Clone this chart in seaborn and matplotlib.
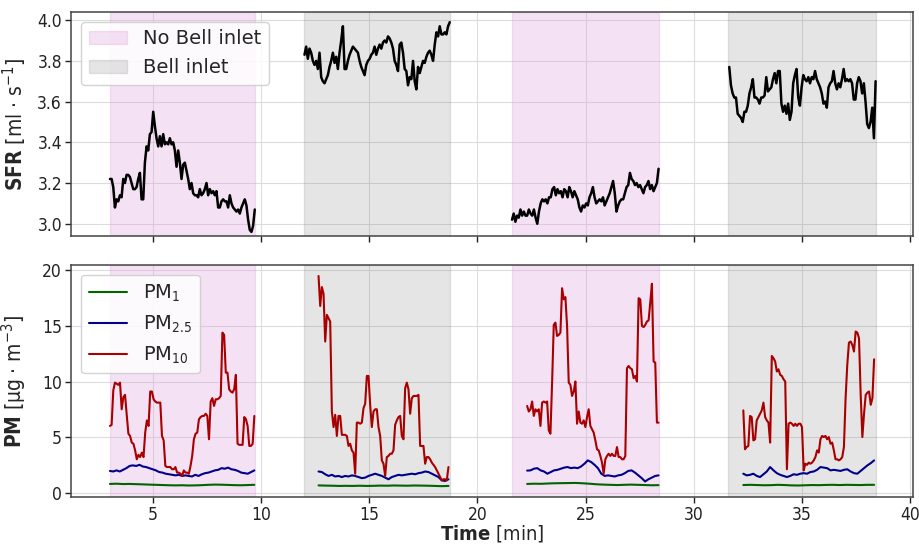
import numpy as np
import pandas as pd
import matplotlib
matplotlib.use("Agg")
import matplotlib.pyplot as plt
import seaborn as sns
from matplotlib.patches import Patch
from matplotlib.lines import Line2D
from matplotlib.font_manager import FontProperties

# ---------------- measurement windows [min] ----------------
no_bell_windows = [(3.0, 9.72), (21.6, 28.38)]
bell_windows = [(12.0, 18.71), (31.6, 38.42)]

# ---------------- sampling flow rate (SFR) [ml/s] ----------------
sfr_times = [(3.0, 9.7), (12.0, 18.72), (21.6, 28.38), (31.65, 38.42)]

sfr_run1 = [3.22, 3.22, 3.18, 3.08, 3.12, 3.11, 3.14, 3.13, 3.22, 3.20, 3.24, 3.24, 3.23, 3.20,
            3.17, 3.17, 3.18, 3.22, 3.25, 3.12, 3.12, 3.30, 3.38, 3.36, 3.44, 3.45, 3.55, 3.48,
            3.42, 3.38, 3.43, 3.38, 3.44, 3.39, 3.40, 3.39, 3.42, 3.39, 3.40, 3.36, 3.28, 3.36,
            3.30, 3.22, 3.29, 3.30, 3.26, 3.22, 3.17, 3.20, 3.15, 3.14, 3.14, 3.13, 3.17, 3.14,
            3.15, 3.17, 3.20, 3.14, 3.17, 3.15, 3.16, 3.14, 3.16, 3.08, 3.08, 3.11, 3.12, 3.11,
            3.11, 3.08, 3.14, 3.10, 3.08, 3.07, 3.06, 3.07, 3.05, 3.08, 3.10, 3.12, 3.09, 3.02,
            2.97, 2.96, 2.99, 3.07]
sfr_run2 = [3.83, 3.87, 3.81, 3.86, 3.84, 3.80, 3.78, 3.80, 3.76, 3.84, 3.72, 3.70, 3.69, 3.71,
            3.73, 3.77, 3.80, 3.84, 3.79, 3.82, 3.76, 3.84, 3.90, 3.97, 3.76, 3.76, 3.80, 3.83,
            3.85, 3.87, 3.86, 3.85, 3.84, 3.80, 3.77, 3.75, 3.73, 3.78, 3.80, 3.81, 3.83, 3.84,
            3.87, 3.83, 3.86, 3.88, 3.86, 3.89, 3.90, 3.89, 3.92, 3.91, 3.89, 3.86, 3.80, 3.78,
            3.75, 3.88, 3.89, 3.84, 3.76, 3.75, 3.68, 3.72, 3.71, 3.80, 3.70, 3.66, 3.77, 3.74,
            3.77, 3.80, 3.79, 3.82, 3.84, 3.85, 3.83, 3.80, 3.88, 3.94, 3.92, 3.97, 3.93, 3.93,
            3.94, 3.93, 3.97, 3.99]
sfr_run3 = [3.02, 3.05, 3.01, 3.04, 3.03, 3.07, 3.04, 3.06, 3.04, 3.04, 3.07, 3.05, 3.04, 3.07,
            3.03, 3.00, 3.06, 3.10, 3.12, 3.11, 3.12, 3.10, 3.13, 3.13, 3.17, 3.18, 3.14, 3.17,
            3.15, 3.16, 3.13, 3.17, 3.16, 3.13, 3.18, 3.16, 3.13, 3.16, 3.14, 3.12, 3.08, 3.06,
            3.09, 3.08, 3.10, 3.09, 3.13, 3.15, 3.18, 3.13, 3.10, 3.11, 3.12, 3.11, 3.13, 3.09,
            3.11, 3.13, 3.15, 3.18, 3.21, 3.15, 3.06, 3.09, 3.11, 3.12, 3.12, 3.15, 3.18, 3.19,
            3.25, 3.22, 3.21, 3.19, 3.20, 3.18, 3.19, 3.17, 3.15, 3.18, 3.19, 3.21, 3.17, 3.19,
            3.16, 3.18, 3.20, 3.27]
sfr_run4 = [3.77, 3.68, 3.64, 3.62, 3.62, 3.54, 3.53, 3.52, 3.50, 3.55, 3.55, 3.58, 3.64, 3.67,
            3.71, 3.62, 3.62, 3.61, 3.59, 3.62, 3.62, 3.63, 3.72, 3.65, 3.66, 3.67, 3.71, 3.74,
            3.69, 3.75, 3.75, 3.59, 3.55, 3.58, 3.54, 3.59, 3.51, 3.55, 3.69, 3.73, 3.76, 3.62,
            3.58, 3.67, 3.73, 3.71, 3.70, 3.72, 3.69, 3.72, 3.71, 3.75, 3.71, 3.69, 3.67, 3.64,
            3.59, 3.60, 3.57, 3.67, 3.69, 3.70, 3.75, 3.69, 3.66, 3.69, 3.67, 3.71, 3.76, 3.70,
            3.71, 3.70, 3.71, 3.69, 3.61, 3.61, 3.69, 3.72, 3.70, 3.64, 3.69, 3.60, 3.49, 3.47,
            3.50, 3.57, 3.42, 3.70]

# ---------------- particulate matter [ug/m3] ----------------
pm_times = [(3.0, 9.68), (12.65, 18.66), (22.3, 28.38), (32.3, 38.35)]

pm10_run1 = [6.0, 6.1, 9.2, 9.9, 9.8, 9.7, 9.9, 7.5, 8.6, 8.8, 7.0, 5.3, 5.1, 4.5, 4.4, 3.8, 3.0,
             3.4, 3.2, 3.6, 3.2, 5.4, 6.5, 6.0, 9.1, 9.1, 8.4, 8.2, 8.1, 8.1, 8.1, 5.1, 4.7, 2.4,
             2.3, 2.3, 2.3, 2.1, 2.1, 2.3, 1.8, 1.8, 1.7, 1.5, 2.0, 1.8, 1.8, 1.7, 2.4, 3.3, 4.8,
             5.3, 5.4, 6.6, 6.8, 6.9, 6.9, 7.1, 6.9, 4.8, 8.2, 8.5, 7.8, 8.4, 8.4, 8.5, 8.7, 14.4,
             14.2, 10.8, 10.8, 9.3, 9.1, 9.0, 9.3, 10.6, 4.4, 4.3, 4.3, 4.3, 6.8, 6.6, 6.0, 4.2,
             4.2, 4.4, 6.9]
pm10_run2 = [19.5, 16.8, 18.5, 17.9, 13.6, 16.0, 15.7, 15.4, 7.3, 5.9, 7.0, 5.1, 6.9, 6.9, 5.2,
             5.2, 5.2, 5.1, 4.2, 4.4, 3.8, 3.6, 1.7, 6.3, 6.3, 6.2, 6.3, 7.6, 8.0, 10.5, 10.5,
             7.9, 5.9, 7.3, 7.5, 7.5, 5.9, 5.1, 2.9, 2.6, 1.5, 3.2, 3.3, 3.5, 3.5, 3.8, 6.1, 6.5,
             6.8, 6.9, 5.1, 4.8, 9.4, 9.9, 9.3, 7.1, 8.5, 8.7, 8.7, 8.7, 8.8, 4.2, 4.2, 4.2, 2.6,
             3.2, 3.2, 3.0, 2.7, 2.5, 2.3, 2.0, 1.7, 1.4, 1.1, 1.2, 1.2, 1.1, 2.3]
pm10_run3 = [7.8, 7.3, 7.5, 8.2, 6.9, 7.5, 7.3, 7.5, 6.0, 8.1, 8.2, 8.1, 8.2, 5.6, 5.3, 9.9, 15.1,
             15.3, 14.1, 14.2, 14.4, 18.4, 17.4, 17.6, 15.0, 9.9, 9.7, 8.7, 9.1, 10.0, 6.2, 7.3,
             6.3, 6.2, 6.5, 5.9, 6.8, 7.5, 6.0, 5.7, 5.4, 4.7, 3.9, 3.8, 3.3, 2.7, 1.7, 3.0, 3.3,
             3.5, 3.3, 3.5, 3.3, 3.3, 4.1, 3.2, 3.2, 3.0, 3.0, 3.3, 11.2, 11.4, 11.2, 11.1, 10.3,
             10.5, 10.0, 17.5, 17.4, 15.0, 14.9, 15.1, 15.4, 15.5, 17.1, 18.8, 11.8, 11.7, 6.3, 6.3]
pm10_run4 = [7.4, 3.9, 4.1, 4.2, 6.9, 6.8, 4.7, 4.8, 6.5, 6.8, 7.1, 7.4, 8.1, 6.8, 6.5, 6.3, 4.5,
             12.3, 12.1, 11.8, 10.9, 11.1, 10.6, 10.5, 10.2, 10.0, 2.1, 6.2, 6.3, 6.2, 6.0, 6.2,
             6.0, 6.2, 6.2, 5.9, 2.0, 2.6, 2.5, 2.7, 2.6, 2.7, 2.9, 3.2, 3.8, 3.6, 4.8, 5.1, 5.0,
             5.1, 4.8, 5.0, 4.4, 4.5, 3.8, 3.0, 3.0, 2.9, 3.0, 3.2, 4.1, 8.5, 11.5, 13.5, 13.6,
             13.3, 12.7, 14.5, 14.4, 13.9, 8.8, 5.0, 7.1, 8.8, 9.0, 9.1, 7.9, 8.5, 12.0]

pm25_run1 = [1.95, 1.9, 2.0, 1.9, 2.05, 2.2, 2.4, 2.45, 2.4, 2.5, 2.35, 2.3, 2.2, 2.1, 2.0, 1.85,
             1.8, 1.7, 1.65, 1.6, 1.55, 1.6, 1.5, 1.55, 1.5, 1.45, 1.6, 1.5, 1.65, 1.75, 1.8, 1.9,
             2.0, 2.05, 2.2, 2.15, 2.25, 2.1, 2.05, 1.95, 1.8, 1.75, 1.7, 1.85, 2.0]
pm25_run2 = [1.9, 1.85, 1.65, 1.5, 1.6, 1.45, 1.5, 1.4, 1.5, 1.45, 1.55, 1.5, 1.4, 1.3, 1.35, 1.5,
             1.6, 1.7, 1.6, 1.5, 1.35, 1.2, 1.4, 1.5, 1.6, 1.55, 1.6, 1.65, 1.7, 1.65, 1.75, 1.8,
             1.9, 1.85, 1.7, 1.55, 1.4, 1.1, 1.05, 1.2]
pm25_run3 = [1.98, 2.0, 2.15, 2.2, 2.0, 1.9, 1.7, 1.85, 2.0, 2.05, 2.15, 2.25, 2.3, 2.2, 2.25, 2.2,
             2.35, 2.6, 2.9, 2.75, 2.5, 2.2, 1.7, 1.5, 1.55, 1.5, 1.45, 1.55, 1.6, 1.75, 1.95, 2.0,
             1.8, 1.55, 1.3, 1.0, 1.2, 1.35, 1.5, 1.55]
pm25_run4 = [1.7, 1.55, 1.6, 1.7, 1.5, 1.4, 1.65, 1.9, 2.3, 2.0, 1.75, 1.6, 1.5, 1.4, 1.5, 1.65,
             1.6, 1.7, 1.75, 1.7, 1.85, 1.9, 2.05, 2.3, 2.25, 2.2, 2.0, 2.05, 2.0, 1.95, 2.05, 2.1,
             1.9, 1.75, 1.7, 1.95, 2.2, 2.45, 2.65, 2.9]

pm1_run1 = [0.78, 0.8, 0.77, 0.78, 0.76, 0.74, 0.72, 0.7, 0.68, 0.66, 0.65, 0.66, 0.64, 0.65, 0.67,
            0.7, 0.72, 0.71, 0.69, 0.67, 0.66, 0.68, 0.7]
pm1_run2 = [0.65, 0.63, 0.62, 0.6, 0.61, 0.6, 0.62, 0.6, 0.61, 0.63, 0.62, 0.64, 0.63, 0.62, 0.64,
            0.63, 0.62, 0.6, 0.58, 0.6]
pm1_run3 = [0.78, 0.8, 0.79, 0.82, 0.84, 0.85, 0.86, 0.87, 0.84, 0.8, 0.75, 0.72, 0.7, 0.68, 0.7,
            0.72, 0.7, 0.68, 0.66, 0.67]
pm1_run4 = [0.68, 0.7, 0.68, 0.66, 0.67, 0.7, 0.68, 0.65, 0.64, 0.66, 0.68, 0.67, 0.69, 0.7, 0.68,
            0.7, 0.69, 0.68, 0.7, 0.7]

pm_labels = ["PM$_{1}$", "PM$_{2.5}$", "PM$_{10}$"]
pm_colors = ["darkgreen", "darkblue", "#a80000"]


def long_table(time_windows, runs, name):
    frames = []
    for run_id, ((t0, t1), values) in enumerate(zip(time_windows, runs)):
        frames.append(pd.DataFrame({
            "time": np.linspace(t0, t1, len(values)),
            "value": values,
            "run": run_id,
            "series": name,
        }))
    return pd.concat(frames, ignore_index=True)


sfr_df = long_table(sfr_times, [sfr_run1, sfr_run2, sfr_run3, sfr_run4], "SFR")
pm_df = pd.concat([
    long_table(pm_times, [pm1_run1, pm1_run2, pm1_run3, pm1_run4], pm_labels[0]),
    long_table(pm_times, [pm25_run1, pm25_run2, pm25_run3, pm25_run4], pm_labels[1]),
    long_table(pm_times, [pm10_run1, pm10_run2, pm10_run3, pm10_run4], pm_labels[2]),
], ignore_index=True)

sns.set_theme(style="ticks")
plt.rcParams["font.family"] = ["DejaVu Sans"]
plt.rcParams["font.stretch"] = "condensed"
plt.rcParams["mathtext.fontset"] = "custom"
plt.rcParams["mathtext.rm"] = "DejaVu Sans:stretch=condensed"
plt.rcParams["mathtext.it"] = "DejaVu Sans:italic:stretch=condensed"
plt.rcParams["mathtext.bf"] = "DejaVu Sans:bold:stretch=condensed"
plt.rcParams["axes.edgecolor"] = "#444444"
plt.rcParams["xtick.color"] = "#222222"
plt.rcParams["ytick.color"] = "#222222"

fig = plt.figure(figsize=(9.2, 5.45), dpi=100)
ax1 = fig.add_axes([0.0772, 0.567, 0.9152, 0.411])
ax2 = fig.add_axes([0.0772, 0.088, 0.9152, 0.426], sharex=ax1)

pink = "plum"
grey = "grey"
for ax in (ax1, ax2):
    ax.grid(True, color="#dcdcdc", linewidth=0.8)
    for t0, t1 in no_bell_windows:
        ax.axvspan(t0, t1, color=pink, alpha=0.3, zorder=0.6)
    for t0, t1 in bell_windows:
        ax.axvspan(t0, t1, color=grey, alpha=0.2, zorder=0.6)

sns.lineplot(data=sfr_df, x="time", y="value", units="run", estimator=None,
             color="black", linewidth=1.8, ax=ax1, legend=False)

sns.lineplot(data=pm_df, x="time", y="value", hue="series", units="run",
             estimator=None, hue_order=pm_labels,
             palette=dict(zip(pm_labels, pm_colors)),
             linewidth=1.5, ax=ax2, legend=False)

ax1.set_xlim(1.2, 40.15)
ax1.set_ylim(2.94, 4.04)
ax2.set_ylim(-0.4, 20.5)
ax1.set_yticks([3.0, 3.2, 3.4, 3.6, 3.8, 4.0])
ax2.set_yticks([0, 5, 10, 15, 20])
ax2.set_xticks([5, 10, 15, 20, 25, 30, 35, 40])
ax1.tick_params(labelbottom=False)
for ax in (ax1, ax2):
    ax.tick_params(labelsize=12.5, length=4, width=1, pad=2.5)
    for s in ax.spines.values():
        s.set_visible(True)
        s.set_linewidth(1.1)

ax1.set_xlabel("")
ax1.set_ylabel(r"$\mathbf{SFR}$ [ml $\cdot$ s$^{-1}$]", fontsize=15)
ax2.set_ylabel(r"$\mathbf{PM}$ [µg $\cdot$ m$^{-3}$]", fontsize=15)
ax2.set_xlabel(r"$\mathbf{Time}$ [min]", fontsize=14.5, va="top")
ax1.yaxis.set_label_coords(-0.05, 0.5)
ax2.yaxis.set_label_coords(-0.05, 0.5)
ax2.xaxis.set_label_coords(0.5, -0.112)

legend_font = FontProperties(family="DejaVu Sans", stretch="normal", size=14)

span_handles = [Patch(facecolor=pink, alpha=0.3, edgecolor=pink),
                Patch(facecolor=grey, alpha=0.2, edgecolor=grey)]
ax1.legend(span_handles, ["No Bell inlet", "Bell inlet"], loc="upper left",
           prop=legend_font, framealpha=0.85)

pm_handles = [Line2D([], [], color=c, linewidth=1.5) for c in pm_colors]
ax2.legend(pm_handles, pm_labels, loc="upper left", prop=legend_font, framealpha=0.85)

fig.savefig("out.png", dpi=100)
